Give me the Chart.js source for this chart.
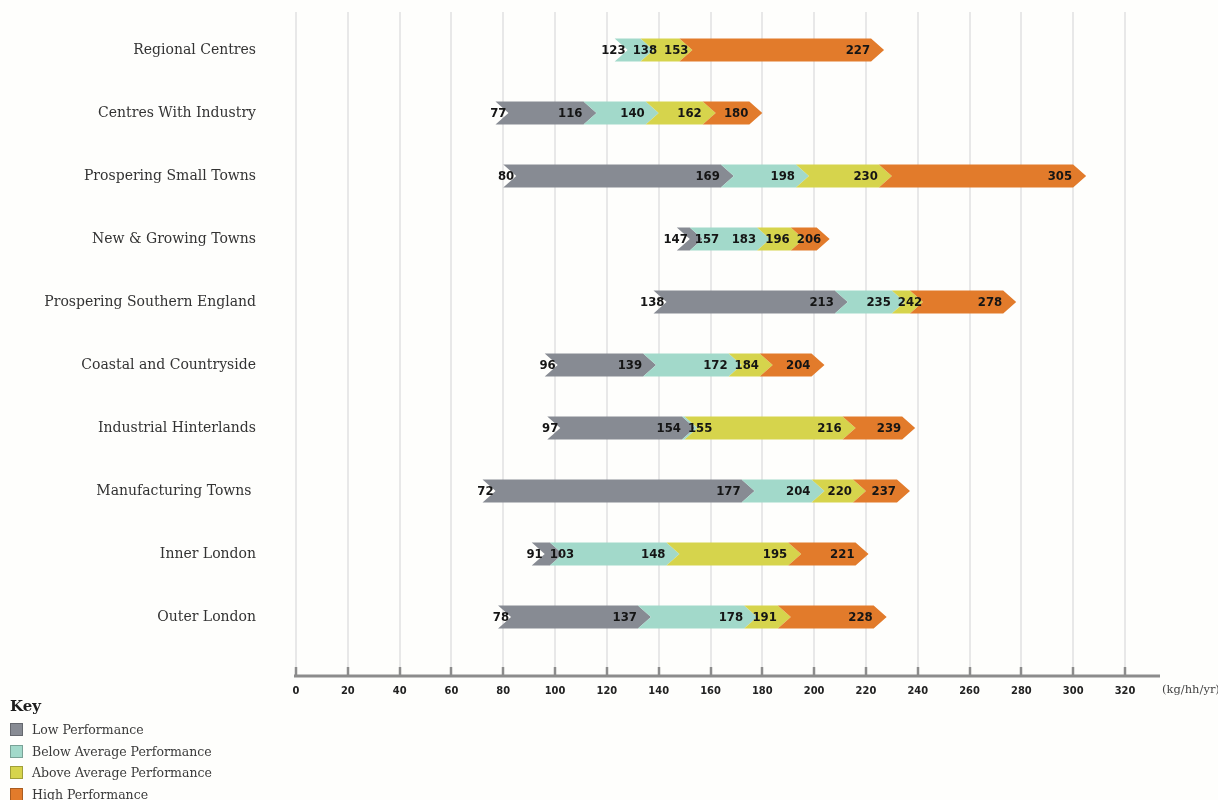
<!DOCTYPE html>
<html>
<head>
<meta charset="utf-8">
<script src="https://cdn.jsdelivr.net/npm/chart.js@4.4.1/dist/chart.umd.min.js"></script>
<style>
  html, body { margin: 0; padding: 0; background: #fefefc; }
  #wrap { position: relative; width: 1218px; height: 800px; }
  #key { position: absolute; left: 10px; top: 697px; font-family: "DejaVu Serif", serif; color: #3a3a3a; }
  #key .title { font-weight: bold; font-size: 15px; color: #1e1e1e; margin-bottom: 4px; }
  #key .item { display: flex; align-items: center; height: 21.5px; font-size: 12.5px; }
  #key .sw { width: 13px; height: 13px; margin-right: 9px; box-sizing: border-box; border: 1px solid rgba(0,0,0,0.25); }
</style>
</head>
<body>
<div id="wrap">
  <canvas id="c" width="1218" height="800"></canvas>
  <div id="key"></div>
</div>
<script>
// Residual waste per household, by area type (kg/hh/yr)
const categories = [
  'Regional Centres', 'Centres With Industry', 'Prospering Small Towns',
  'New & Growing Towns', 'Prospering Southern England', 'Coastal and Countryside',
  'Industrial Hinterlands', 'Manufacturing Towns ', 'Inner London', 'Outer London'
];
const startValues    = [123,  77,  80, 147, 138,  96,  97,  72,  91,  78];
const lowEnd         = [123, 116, 169, 157, 213, 139, 154, 177, 103, 137];
const belowAvgEnd    = [138, 140, 198, 183, 235, 172, 155, 204, 148, 178];
const aboveAvgEnd    = [153, 162, 230, 196, 242, 184, 216, 220, 195, 191];
const highEnd        = [227, 180, 305, 206, 278, 204, 239, 237, 221, 228];

const seriesNames  = ['Low Performance', 'Below Average Performance', 'Above Average Performance', 'High Performance'];
const seriesColors = ['#878b93', '#a2d9ca', '#d6d44c', '#e27b2b'];
const xTicks = [0, 20, 40, 60, 80, 100, 120, 140, 160, 180, 200, 220, 240, 260, 280, 300, 320];

const bounds = [startValues, lowEnd, belowAvgEnd, aboveAvgEnd, highEnd];
const datasets = seriesNames.map((name, s) => ({
  label: name,
  data: categories.map((_, i) => [bounds[s][i], bounds[s + 1][i]]),
  backgroundColor: 'rgba(0,0,0,0)',
  fillColor: seriesColors[s],
  borderWidth: 0,
  grouped: false,
  barThickness: 23
}));

const TIP = 13;
const AXIS_Y = 676;
const GRID_TOP = 12;

// Light vertical grid, heavy baseline with tick marks, and the unit label
const gridPlugin = {
  id: 'gridAxis',
  beforeDatasetsDraw(chart) {
    const ctx = chart.ctx, xs = chart.scales.x;
    ctx.save();
    ctx.strokeStyle = '#e3e3e3';
    ctx.lineWidth = 1.6;
    xTicks.forEach(v => {
      const x = Math.round(xs.getPixelForValue(v));
      ctx.beginPath(); ctx.moveTo(x, GRID_TOP); ctx.lineTo(x, AXIS_Y); ctx.stroke();
    });
    ctx.strokeStyle = '#8c8c8c';
    ctx.lineWidth = 3;
    ctx.beginPath(); ctx.moveTo(xs.getPixelForValue(0) - 2, AXIS_Y); ctx.lineTo(1160, AXIS_Y); ctx.stroke();
    ctx.lineWidth = 2.5;
    xTicks.forEach(v => {
      const x = Math.round(xs.getPixelForValue(v));
      ctx.beginPath(); ctx.moveTo(x, AXIS_Y - 9); ctx.lineTo(x, AXIS_Y); ctx.stroke();
    });
    ctx.fillStyle = '#444';
    ctx.font = '11.5px "DejaVu Serif", serif';
    ctx.textAlign = 'left';
    ctx.textBaseline = 'middle';
    ctx.fillText('(kg/hh/yr)', 1162, 690);
    ctx.restore();
  }
};

// Chevron-shaped segments plus the value labels at each break
const chevronPlugin = {
  id: 'chevrons',
  afterDatasetsDraw(chart) {
    const ctx = chart.ctx, xs = chart.scales.x;
    ctx.save();
    chart.data.datasets.forEach((ds, di) => {
      const meta = chart.getDatasetMeta(di);
      meta.data.forEach((el, i) => {
        const [v0, v1] = ds.data[i];
        if (v1 <= v0) return;
        const a = Math.min(el.base, el.x), b = Math.max(el.base, el.x);
        const top = el.y - el.height / 2, bot = el.y + el.height / 2, mid = el.y;
        const first = v0 === startValues[i];
        const left = first ? a : a - TIP;
        const notch = first ? a + TIP : a;
        ctx.fillStyle = ds.fillColor;
        ctx.beginPath();
        ctx.moveTo(left, top);
        ctx.lineTo(b - TIP, top);
        ctx.lineTo(b, mid);
        ctx.lineTo(b - TIP, bot);
        ctx.lineTo(left, bot);
        ctx.lineTo(notch, mid);
        ctx.closePath();
        ctx.fill();
      });
    });

    ctx.font = 'bold 13px "DejaVu Sans Condensed", "DejaVu Sans", sans-serif';
    ctx.fillStyle = '#151515';
    ctx.textBaseline = 'middle';
    ctx.textAlign = 'left';
    const meta0 = chart.getDatasetMeta(0);
    categories.forEach((_, i) => {
      const y = meta0.data[i].y;
      const s = startValues[i];
      let txt = String(s);
      let w = ctx.measureText(txt).width;
      let right = xs.getPixelForValue(s) + 11;
      ctx.fillText(txt, right - w, y + 0.5);
      for (let k = 1; k < bounds.length; k++) {
        const v = bounds[k][i], prev = bounds[k - 1][i];
        if (v <= prev) continue;
        txt = String(v);
        w = ctx.measureText(txt).width;
        let lx = xs.getPixelForValue(v) - TIP - 1 - w;
        if (lx < right + 7) lx = right + 7;
        ctx.fillText(txt, lx, y + 0.5);
        right = lx + w;
      }
    });
    ctx.restore();
  }
};

new Chart(document.getElementById('c'), {
  type: 'bar',
  data: { labels: categories, datasets },
  options: {
    indexAxis: 'y',
    responsive: false,
    animation: false,
    layout: { padding: { top: 18.5, right: 93, left: 0, bottom: 0 } },
    plugins: { legend: { display: false }, tooltip: { enabled: false } },
    scales: {
      x: {
        type: 'linear', min: 0, max: 320,
        grid: { display: false }, border: { display: false },
        afterBuildTicks(scale) { scale.ticks = xTicks.map(v => ({ value: v })); },
        afterFit(scale) { scale.height = 800 - 648.5; },
        ticks: {
          padding: 28,
          color: '#222',
          font: { family: '"DejaVu Sans Condensed", "DejaVu Sans", sans-serif', size: 11, weight: 'bold' }
        }
      },
      y: {
        grid: { display: false }, border: { display: false },
        afterFit(scale) {
          scale.width = 296;
          scale.paddingTop = 0;
          scale.paddingBottom = 0;
        },
        ticks: {
          padding: 32,
          color: '#333',
          font: { family: '"DejaVu Serif", serif', size: 14 }
        }
      }
    }
  },
  plugins: [gridPlugin, chevronPlugin]
});

// Key
const key = document.getElementById('key');
const t = document.createElement('div');
t.className = 'title';
t.textContent = 'Key';
key.appendChild(t);
seriesNames.forEach((n, s) => {
  const row = document.createElement('div');
  row.className = 'item';
  const sw = document.createElement('span');
  sw.className = 'sw';
  sw.style.background = seriesColors[s];
  const lab = document.createElement('span');
  lab.textContent = n;
  row.appendChild(sw); row.appendChild(lab);
  key.appendChild(row);
});
</script>
</body>
</html>
